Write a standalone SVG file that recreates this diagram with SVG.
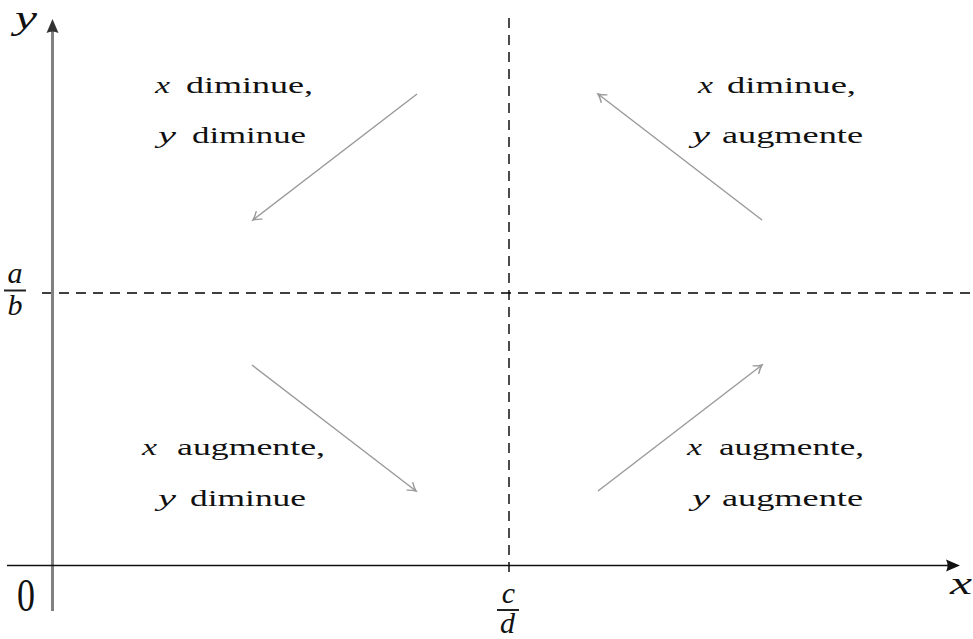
<svg xmlns="http://www.w3.org/2000/svg" width="973" height="639" viewBox="0 0 973 639">
<style>
text{font-family:"Liberation Serif","Times New Roman",serif;fill:#111}
.w{font-size:24px}
.v{font-size:24px;font-style:italic}
.dash{stroke:#000;stroke-width:1.4;stroke-dasharray:10 7;fill:none}
.flow{stroke:#999;stroke-width:1.4;fill:none;marker-end:url(#ah)}
</style>
<defs>
<marker id="ah" markerUnits="userSpaceOnUse" markerWidth="16" markerHeight="16" viewBox="-10 -8 12 16" refX="0" refY="0" orient="auto">
<path d="M -8 -5 Q -3 -1 0 0 Q -3 1 -8 5" stroke="#999" stroke-width="1.4" fill="none"/>
</marker>
</defs>
<rect width="973" height="639" fill="#fff"/>
<g id="guides">
<line class="dash" x1="42" y1="293" x2="973" y2="293"/>
<line class="dash" x1="509" y1="18" x2="509" y2="577"/>
</g>
<g id="axes">
<line x1="52.5" y1="611" x2="52.5" y2="30" stroke="#808080" stroke-width="3"/>
<path d="M 52.5 19 L 58.5 33 Q 52.5 30 46.5 33 Z" fill="#333"/>
<line x1="7" y1="565.5" x2="950" y2="565.5" stroke="#111" stroke-width="1.6"/>
<path d="M 960 565.5 L 946 559.5 Q 949 565.5 946 571.5 Z" fill="#111"/>
<text x="15" y="29" style="font-size:34px;font-style:italic" textLength="22" lengthAdjust="spacingAndGlyphs">y</text>
<text x="950" y="594" style="font-size:32px;font-style:italic" textLength="22" lengthAdjust="spacingAndGlyphs">x</text>
<text x="17" y="611" style="font-size:46px" textLength="18" lengthAdjust="spacingAndGlyphs">0</text>
<text x="15" y="283" text-anchor="middle" style="font-size:30px;font-style:italic">a</text>
<line x1="4" y1="290.5" x2="26" y2="290.5" stroke="#222" stroke-width="2"/>
<text x="15" y="315" text-anchor="middle" style="font-size:30px;font-style:italic">b</text>
<text x="508.5" y="603" text-anchor="middle" style="font-size:30px;font-style:italic">c</text>
<line x1="497" y1="610" x2="519" y2="610" stroke="#222" stroke-width="2"/>
<text x="507.5" y="633" text-anchor="middle" style="font-size:30px;font-style:italic">d</text>
</g>
<g id="q-tl">
<text class="v" x="155" y="93" textLength="15" lengthAdjust="spacingAndGlyphs">x</text>
<text class="w" x="186" y="93" textLength="127" lengthAdjust="spacingAndGlyphs">diminue,</text>
<text class="v" x="158" y="143" textLength="18" lengthAdjust="spacingAndGlyphs">y</text>
<text class="w" x="192" y="143" textLength="114" lengthAdjust="spacingAndGlyphs">diminue</text>
</g>
<g id="q-tr">
<text class="v" x="698" y="93" textLength="15" lengthAdjust="spacingAndGlyphs">x</text>
<text class="w" x="727" y="93" textLength="129" lengthAdjust="spacingAndGlyphs">diminue,</text>
<text class="v" x="692" y="143" textLength="18" lengthAdjust="spacingAndGlyphs">y</text>
<text class="w" x="722" y="143" textLength="141" lengthAdjust="spacingAndGlyphs">augmente</text>
</g>
<g id="q-bl">
<text class="v" x="142" y="455" textLength="15" lengthAdjust="spacingAndGlyphs">x</text>
<text class="w" x="177" y="455" textLength="148" lengthAdjust="spacingAndGlyphs">augmente,</text>
<text class="v" x="158" y="506" textLength="18" lengthAdjust="spacingAndGlyphs">y</text>
<text class="w" x="190" y="506" textLength="116" lengthAdjust="spacingAndGlyphs">diminue</text>
</g>
<g id="q-br">
<text class="v" x="687" y="455" textLength="15" lengthAdjust="spacingAndGlyphs">x</text>
<text class="w" x="719" y="455" textLength="145" lengthAdjust="spacingAndGlyphs">augmente,</text>
<text class="v" x="692" y="506" textLength="18" lengthAdjust="spacingAndGlyphs">y</text>
<text class="w" x="722" y="506" textLength="141" lengthAdjust="spacingAndGlyphs">augmente</text>
</g>
<g id="connectors">
<line class="flow" x1="417" y1="94" x2="253" y2="220"/>
<line class="flow" x1="762" y1="220" x2="598" y2="94"/>
<line class="flow" x1="252" y1="365" x2="416" y2="491"/>
<line class="flow" x1="598" y1="491" x2="762" y2="365"/>
</g>
</svg>
